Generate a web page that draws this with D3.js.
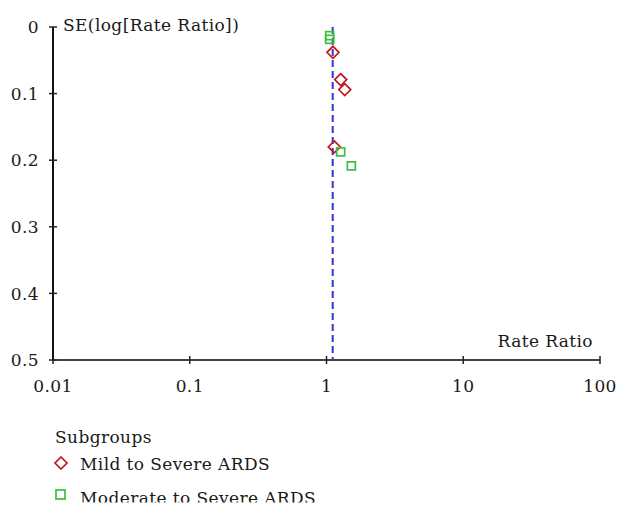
<!DOCTYPE html>
<html><head><meta charset="utf-8">
<script src="https://cdn.jsdelivr.net/npm/d3@7"></script>
<style>
html,body{margin:0;padding:0;background:#fff;}
svg text{font-family:"DejaVu Serif","Liberation Serif",serif;font-size:17px;letter-spacing:0.4px;fill:#1a1a1a;}
</style></head>
<body>
<svg id="c" width="629" height="515"></svg>
<script>
// Data
const xTickValues = [0.01, 0.1, 1, 10, 100];
const xTickLabels = ["0.01", "0.1", "1", "10", "100"];
const yTickValues = [0, 0.1, 0.2, 0.3, 0.4, 0.5];
const yTickLabels = ["0", "0.1", "0.2", "0.3", "0.4", "0.5"];
const mildRR = [1.115, 1.27, 1.36, 1.14];
const mildSE = [0.038, 0.079, 0.094, 0.18];
const modRR  = [1.055, 1.055, 1.27, 1.52];
const modSE  = [0.013, 0.0185, 0.1875, 0.2085];
const pooledRR = 1.11;
const legendTitle = "Subgroups";
const seriesNames = ["Mild to Severe ARDS", "Moderate to Severe ARDS"];

const red = "#c4161c", green = "#3dbf3d", blue = "#3535c8";
const svg = d3.select("#c");
const x = d3.scaleLog().domain([0.01, 100]).range([53, 600]);
const y = d3.scaleLinear().domain([0, 0.5]).range([27, 360]);

// dashed pooled line
svg.append("line")
  .attr("x1", x(pooledRR)).attr("x2", x(pooledRR))
  .attr("y1", y(0)).attr("y2", y(0.5))
  .attr("stroke", blue).attr("stroke-width", 2).attr("stroke-dasharray", "7,4");

// x axis
const xg = svg.append("g");
xg.append("line").attr("x1", x(0.01)).attr("x2", x(100)).attr("y1", y(0.5)).attr("y2", y(0.5))
  .attr("stroke", "#444").attr("stroke-width", 2);
xg.selectAll("line.t").data(xTickValues).enter().append("line").attr("class","t")
  .attr("x1", d => x(d)).attr("x2", d => x(d)).attr("y1", y(0.5) - 4).attr("y2", y(0.5) + 4)
  .attr("stroke", "#222").attr("stroke-width", 1.5);
xg.selectAll("text").data(xTickValues).enter().append("text")
  .attr("x", d => x(d)).attr("y", 392).attr("text-anchor", "middle")
  .text((d, i) => xTickLabels[i]);
svg.append("text").attr("x", 593).attr("y", 347).attr("text-anchor", "end").text("Rate Ratio");

// y axis
const yg = svg.append("g");
yg.append("line").attr("x1", 53).attr("x2", 53).attr("y1", y(0)).attr("y2", y(0.5))
  .attr("stroke", "#111").attr("stroke-width", 2);
yg.selectAll("line.t").data(yTickValues).enter().append("line").attr("class","t")
  .attr("x1", 49).attr("x2", 57).attr("y1", d => y(d)).attr("y2", d => y(d))
  .attr("stroke", "#222").attr("stroke-width", 1.5);
yg.selectAll("text").data(yTickValues).enter().append("text")
  .attr("x", 39).attr("y", d => y(d)).attr("dy", "0.36em").attr("text-anchor", "end")
  .text((d, i) => yTickLabels[i]);
svg.append("text").attr("x", 63).attr("y", 31).text("SE(log[Rate Ratio])");

const diamond = "M0,-6L6,0L0,6L-6,0Z";
// mild series (diamonds)
svg.append("g").selectAll("path").data(mildRR).enter().append("path")
  .attr("d", diamond)
  .attr("transform", (d, i) => `translate(${x(d)},${y(mildSE[i])})`)
  .attr("fill", "none").attr("stroke", red).attr("stroke-width", 1.7);
// moderate series (squares)
svg.append("g").selectAll("rect").data(modRR).enter().append("rect")
  .attr("x", d => x(d) - 4).attr("y", (d, i) => y(modSE[i]) - 4)
  .attr("width", 8).attr("height", 8)
  .attr("fill", "none").attr("stroke", green).attr("stroke-width", 1.7);

// legend
svg.append("clipPath").attr("id", "lc").append("rect")
  .attr("x", 0).attr("y", 400).attr("width", 629).attr("height", 102.5);
const lg = svg.append("g").attr("clip-path", "url(#lc)");
lg.append("text").attr("x", 55).attr("y", 443).text(legendTitle);
lg.append("path").attr("d", diamond).attr("transform", "translate(61,463)")
  .attr("fill", "none").attr("stroke", red).attr("stroke-width", 1.7);
lg.append("text").attr("x", 80).attr("y", 470).text(seriesNames[0]);
lg.append("rect").attr("x", 56).attr("y", 490).attr("width", 9).attr("height", 9)
  .attr("fill", "none").attr("stroke", green).attr("stroke-width", 1.7);
lg.append("text").attr("x", 80).attr("y", 504).text(seriesNames[1]);
</script>
</body></html>
